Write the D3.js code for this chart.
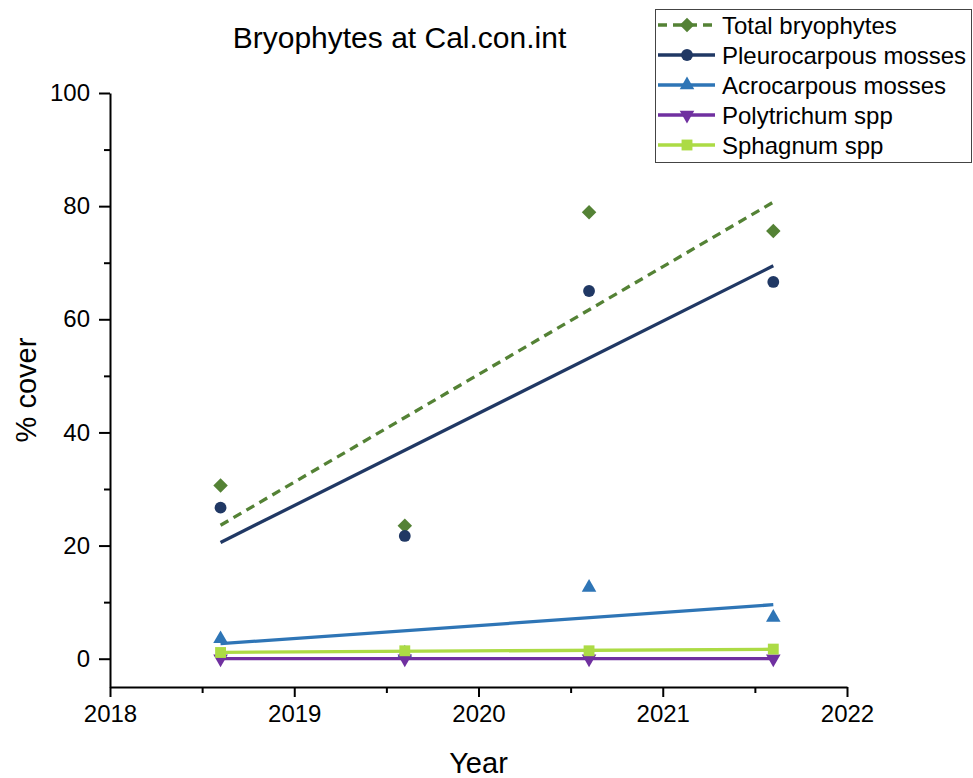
<!DOCTYPE html>
<html>
<head>
<meta charset="utf-8">
<script src="https://cdn.jsdelivr.net/npm/d3@7"></script>
<style>
  html, body { margin: 0; padding: 0; background: #fff; }
  svg { display: block; font-family: "Liberation Sans", Arial, sans-serif; }
</style>
</head>
<body>
<svg id="chart" width="973" height="778"></svg>
<script>
// ---- data ----
const years = [2018.6, 2019.6, 2020.6, 2021.6];
const seriesNames = ["Total bryophytes", "Pleurocarpous mosses", "Acrocarpous mosses", "Polytrichum spp", "Sphagnum spp"];
const totalBryophytes = [30.6, 23.5, 78.9, 75.6];
const pleurocarpous = [26.7, 21.7, 65.0, 66.6];
const acrocarpous = [3.5, 1.0, 12.6, 7.3];
const polytrichum = [0, 0, 0, 0];
const sphagnum = [1.1, 1.4, 1.4, 1.7];
const xTicks = [2018, 2019, 2020, 2021, 2022];
const xMinorTicks = [2018.5, 2019.5, 2020.5, 2021.5];
const yTicks = [0, 20, 40, 60, 80, 100];
const yMinorTicks = [10, 30, 50, 70, 90];

const colors = ["#548235", "#203864", "#2e75b6", "#7030a0", "#acdb45"];
const shapes = ["diamond", "circle", "triangle", "triangleDown", "square"];
const dashes = ["9,6", null, null, null, null];
const values = [totalBryophytes, pleurocarpous, acrocarpous, polytrichum, sphagnum];

const series = seriesNames.map((name, i) => ({
  name, color: colors[i], shape: shapes[i], dash: dashes[i],
  points: years.map((x, j) => ({ x, y: values[i][j] }))
}));

// ---- layout ----
const svg = d3.select("#chart");
const x = d3.scaleLinear().domain([2018, 2022]).range([110, 847]);
const y = d3.scaleLinear().domain([-5, 100]).range([687, 93]);

function linFit(pts) {
  const mx = d3.mean(pts, d => d.x), my = d3.mean(pts, d => d.y);
  let sxy = 0, sxx = 0;
  pts.forEach(d => { sxy += (d.x - mx) * (d.y - my); sxx += (d.x - mx) ** 2; });
  const b = sxx ? sxy / sxx : 0;
  const a = my - b * mx;
  const x0 = d3.min(pts, d => d.x), x1 = d3.max(pts, d => d.x);
  return [{ x: x0, y: a + b * x0 }, { x: x1, y: a + b * x1 }];
}

function symbolPath(shape) {
  switch (shape) {
    case "diamond": return d3.symbol(d3.symbolSquare, 105)();
    case "circle": return d3.symbol(d3.symbolCircle, 110)();
    case "triangle": return d3.symbol(d3.symbolTriangle, 92)();
    case "triangleDown": return d3.symbol(d3.symbolTriangle, 92)();
    case "square": return d3.symbol(d3.symbolSquare, 118)();
  }
}
function symbolRotate(shape) {
  if (shape === "diamond") return 45;
  if (shape === "triangleDown") return 180;
  return 0;
}

// ---- axes ----
const axisStyle = g => {
  g.selectAll("path.domain").attr("stroke", "#000").attr("stroke-width", 2);
  g.selectAll(".tick line").attr("stroke", "#000").attr("stroke-width", 2);
  g.selectAll(".tick text").attr("fill", "#000").attr("font-size", 24)
    .attr("font-family", "Liberation Sans, Arial, sans-serif");
};

svg.append("g").attr("transform", `translate(0,${y(-5)})`)
  .call(d3.axisBottom(x).tickValues(xTicks).tickFormat(d3.format("d")).tickSize(10).tickSizeOuter(0).tickPadding(8))
  .call(axisStyle);
svg.append("g").attr("transform", `translate(0,${y(-5)})`)
  .call(d3.axisBottom(x).tickValues(xMinorTicks).tickFormat("").tickSize(6).tickSizeOuter(0))
  .call(axisStyle)
  .call(g => g.select("path.domain").remove());

svg.append("g").attr("transform", `translate(${x(2018)},0)`)
  .call(d3.axisLeft(y).tickValues(yTicks).tickFormat(d3.format("d")).tickSize(11).tickSizeOuter(0).tickPadding(9))
  .call(axisStyle);
svg.append("g").attr("transform", `translate(${x(2018)},0)`)
  .call(d3.axisLeft(y).tickValues(yMinorTicks).tickFormat("").tickSize(6).tickSizeOuter(0))
  .call(axisStyle)
  .call(g => g.select("path.domain").remove());

// ---- titles ----
svg.append("text").attr("x", 399.5).attr("y", 48).attr("text-anchor", "middle")
  .attr("font-size", 30).attr("fill", "#000").text("Bryophytes at Cal.con.int");
svg.append("text").attr("x", (x(2018) + x(2022)) / 2).attr("y", 773).attr("text-anchor", "middle")
  .attr("font-size", 29).attr("fill", "#000").text("Year");
svg.append("text").attr("transform", `translate(36,${(y(-5) + y(100)) / 2})rotate(-90)`)
  .attr("text-anchor", "middle").attr("font-size", 29).attr("fill", "#000").text("% cover");

// ---- trend lines ----
const line = d3.line().x(d => x(d.x)).y(d => y(d.y));
const plot = svg.append("g");
series.forEach(s => {
  plot.append("path").datum(linFit(s.points))
    .attr("d", line).attr("fill", "none")
    .attr("stroke", s.color).attr("stroke-width", 3.3)
    .attr("stroke-dasharray", s.dash);
});
// ---- markers ----
series.forEach(s => {
  plot.append("g").selectAll("path").data(s.points).join("path")
    .attr("d", symbolPath(s.shape))
    .attr("transform", d => `translate(${x(d.x)},${y(d.y)})rotate(${symbolRotate(s.shape)})`)
    .attr("fill", s.color);
});

// ---- legend ----
const legend = svg.append("g");
legend.append("rect").attr("x", 655.5).attr("y", 9.5).attr("width", 316).attr("height", 153)
  .attr("fill", "#fff").attr("stroke", "#444").attr("stroke-width", 1);
series.forEach((s, i) => {
  const cy = 25 + i * 30;
  legend.append("line").attr("x1", 658).attr("x2", 715).attr("y1", cy).attr("y2", cy)
    .attr("stroke", s.color).attr("stroke-width", 3.3).attr("stroke-dasharray", s.dash);
  legend.append("path").attr("d", symbolPath(s.shape))
    .attr("transform", `translate(687,${cy})rotate(${symbolRotate(s.shape)})`)
    .attr("fill", s.color);
  legend.append("text").attr("x", 722).attr("y", cy + 8.5)
    .attr("font-size", 24).attr("fill", "#000").text(s.name);
});
</script>
</body>
</html>
